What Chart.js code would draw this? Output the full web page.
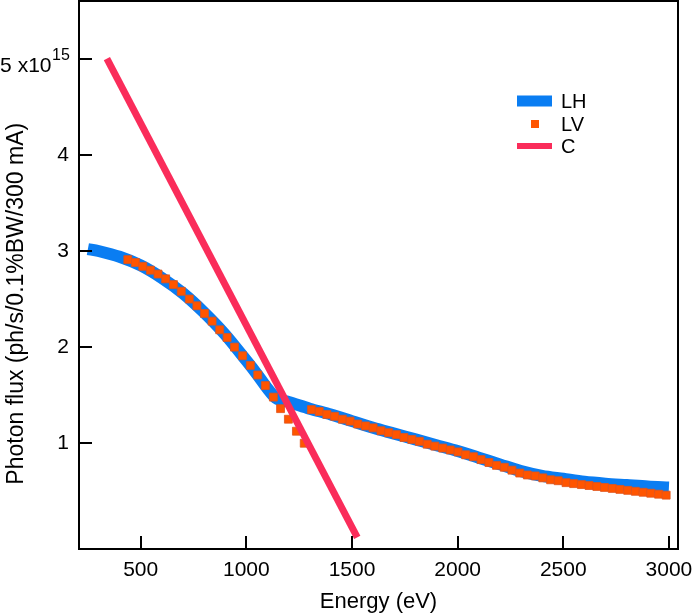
<!DOCTYPE html>
<html>
<head>
<meta charset="utf-8">
<script src="https://cdn.jsdelivr.net/npm/chart.js@4/dist/chart.umd.min.js"></script>
<style>
  body { margin: 0; background: #fff; }
  #wrap { width: 692px; height: 615px; }
</style>
</head>
<body>
<div id="wrap"><canvas id="flux-chart"></canvas></div>
<script>
// Photon flux vs energy (values in units of 1e15 ph/s/0.1%BW/300 mA)
const energyTicks = [500, 1000, 1500, 2000, 2500, 3000];
const fluxTicks = [1, 2, 3, 4, 5];

// LH - thick blue band
const lhEnergy = [250, 300, 400, 500, 600, 700, 800, 900, 1000, 1050, 1100, 1140, 1170, 1200, 1300, 1400, 1500, 1600, 1700, 1800,
                  1900, 2000, 2100, 2200, 2300, 2400, 2500, 2600, 2700, 2800, 2900, 3000];
const lhFlux = [3.02, 3.00, 2.94, 2.85, 2.72, 2.56, 2.36, 2.13, 1.86, 1.72, 1.57, 1.47, 1.445, 1.43, 1.36, 1.30, 1.23, 1.16, 1.10, 1.04,
                0.98, 0.92, 0.85, 0.78, 0.71, 0.66, 0.63, 0.60, 0.58, 0.565, 0.55, 0.54];

// LV - orange squares
const lvEnergy = [439, 475, 510, 546, 582, 618, 655, 692, 730, 766, 802, 838, 874, 909, 944, 982, 1019, 1054, 1090, 1128,
                  1162, 1199, 1237, 1274,
                  1308, 1345, 1381, 1418, 1454, 1491, 1527, 1564, 1600, 1637, 1673, 1710, 1746, 1783, 1819, 1856,
                  1892, 1929, 1965, 2002, 2038, 2075, 2111, 2148, 2184, 2221, 2257, 2294, 2330, 2367, 2403, 2440,
                  2476, 2513, 2549, 2586, 2622, 2659, 2695, 2732, 2768, 2805, 2841, 2878, 2914, 2951, 2987];
const lvFlux = [2.91, 2.88, 2.84, 2.80, 2.76, 2.71, 2.65, 2.58, 2.50, 2.43, 2.35, 2.27, 2.18, 2.10, 2.00, 1.91, 1.81, 1.71, 1.60, 1.48,
                1.36, 1.25, 1.125, 1.00,
                1.35, 1.33, 1.30, 1.28, 1.25, 1.23, 1.20, 1.18, 1.16, 1.13, 1.11, 1.09, 1.06, 1.04, 1.02, 0.99,
                0.97, 0.95, 0.93, 0.91, 0.88, 0.86, 0.83, 0.80, 0.77, 0.75, 0.72, 0.69, 0.67, 0.66, 0.64, 0.62,
                0.61, 0.59, 0.58, 0.57, 0.56, 0.55, 0.54, 0.53, 0.52, 0.51, 0.50, 0.49, 0.48, 0.47, 0.46];

// C - straight red line
const cEnergy = [340, 1525];
const cFlux = [5.0, 0.02];

const FONT = 'Arial, "Liberation Sans", Helvetica, sans-serif';
const TICK_LEN = 13;

function toPoints(xs, ys) {
    return xs.map((x, i) => ({ x: x, y: ys[i] }));
}

// sizes fixed so the plot box sits where the original one does
function fixBox(s, size) {
    if (s.isHorizontal()) s.height = size; else s.width = size;
    s.paddingTop = 0;
    s.paddingBottom = 0;
    s.paddingLeft = 0;
    s.paddingRight = 0;
}

// legend inside the plot, top right
const insideLegend = {
    id: 'insideLegend',
    afterDraw(chart) {
        const ctx = chart.ctx;
        const rows = [101, 124, 146];
        ctx.save();
        ctx.font = '20px ' + FONT;
        ctx.textBaseline = 'middle';
        ctx.textAlign = 'left';
        chart.data.datasets.forEach((d, i) => {
            const y = rows[i];
            if (d.showLine === false) {
                ctx.fillStyle = d.pointBackgroundColor;
                ctx.fillRect(531, y - 4, 8, 8);
            } else {
                ctx.fillStyle = d.borderColor;
                const h = d.borderWidth - 1;
                ctx.fillRect(517, y - h / 2, 35, h);
            }
            ctx.fillStyle = '#000';
            ctx.fillText(d.label, 561, y + 1);
        });
        ctx.restore();
    }
};

// frame, inward ticks, exponent on top tick
const frameAndTicks = {
    id: 'frameAndTicks',
    afterDraw(chart) {
        const ctx = chart.ctx;
        const a = chart.chartArea;
        const xs = chart.scales.x;
        const ys = chart.scales.y;
        ctx.save();
        ctx.strokeStyle = '#000';
        ctx.lineWidth = 2;
        ctx.beginPath();
        ctx.moveTo(a.left, a.top);
        ctx.lineTo(a.right, a.top);
        ctx.lineTo(a.right, a.bottom);
        xs.ticks.forEach(t => {
            const px = Math.round(xs.getPixelForValue(t.value));
            ctx.moveTo(px, a.bottom);
            ctx.lineTo(px, a.bottom - TICK_LEN);
        });
        ys.ticks.forEach(t => {
            const py = Math.round(ys.getPixelForValue(t.value));
            ctx.moveTo(a.left, py);
            ctx.lineTo(a.left + TICK_LEN, py);
        });
        ctx.stroke();
        const y5 = ys.getPixelForValue(5);
        ctx.fillStyle = '#000';
        ctx.font = '16px ' + FONT;
        ctx.textBaseline = 'middle';
        ctx.textAlign = 'left';
        ctx.fillText('15', 52, y5 - 3);
        ctx.restore();
    }
};

const ctx = document.getElementById('flux-chart').getContext('2d');
new Chart(ctx, {
    type: 'line',
    data: {
        datasets: [
            {
                label: 'LH',
                data: toPoints(lhEnergy, lhFlux),
                borderColor: '#0a7df2',
                borderWidth: 12,
                borderJoinStyle: 'round',
                borderCapStyle: 'butt',
                pointRadius: 0,
                tension: 0.3,
                fill: false,
                order: 3
            },
            {
                label: 'LV',
                data: toPoints(lvEnergy, lvFlux),
                showLine: false,
                pointStyle: 'rect',
                pointRadius: 5.6,
                pointBackgroundColor: '#ff5500',
                pointBorderColor: '#e0541c',
                pointBorderWidth: 0.8,
                order: 2
            },
            {
                label: 'C',
                data: toPoints(cEnergy, cFlux),
                borderColor: '#fa2c5a',
                borderWidth: 7,
                borderCapStyle: 'butt',
                pointRadius: 0,
                tension: 0,
                fill: false,
                order: 1
            }
        ]
    },
    options: {
        responsive: true,
        maintainAspectRatio: false,
        animation: false,
        layout: { autoPadding: false, padding: { top: 1, right: 14, left: 0, bottom: 0 } },
        plugins: {
            legend: { display: false },
            tooltip: { enabled: false }
        },
        scales: {
            x: {
                type: 'linear',
                min: 208,
                max: 3043,
                afterBuildTicks: s => { s.ticks = energyTicks.map(v => ({ value: v })); },
                afterFit: s => fixBox(s, 66),
                grid: { display: false, drawTicks: false },
                border: { display: true, width: 2, color: '#000' },
                ticks: {
                    color: '#000',
                    font: { family: FONT, size: 21 },
                    padding: 9,
                    maxRotation: 0,
                    callback: v => String(v)
                },
                title: {
                    display: true,
                    text: 'Energy (eV)',
                    color: '#000',
                    font: { family: FONT, size: 22 },
                    padding: { top: 0, bottom: 0 }
                }
            },
            y: {
                type: 'linear',
                min: -0.1,
                max: 5.6,
                afterBuildTicks: s => { s.ticks = fluxTicks.map(v => ({ value: v })); },
                afterFit: s => fixBox(s, 79),
                grid: { display: false, drawTicks: false },
                border: { display: true, width: 2, color: '#000' },
                ticks: {
                    color: '#000',
                    font: { family: FONT, size: 21, lineHeight: 0.7 },
                    padding: 10,
                    callback: v => (v === 5 ? ['', '5 x10   '] : String(v))
                },
                title: {
                    display: true,
                    text: 'Photon flux (ph/s/0.1%BW/300 mA)         ',
                    color: '#000',
                    font: { family: FONT, size: 23 },
                    padding: { top: 3, bottom: 0 }
                }
            }
        }
    },
    plugins: [insideLegend, frameAndTicks]
});
</script>
</body>
</html>
